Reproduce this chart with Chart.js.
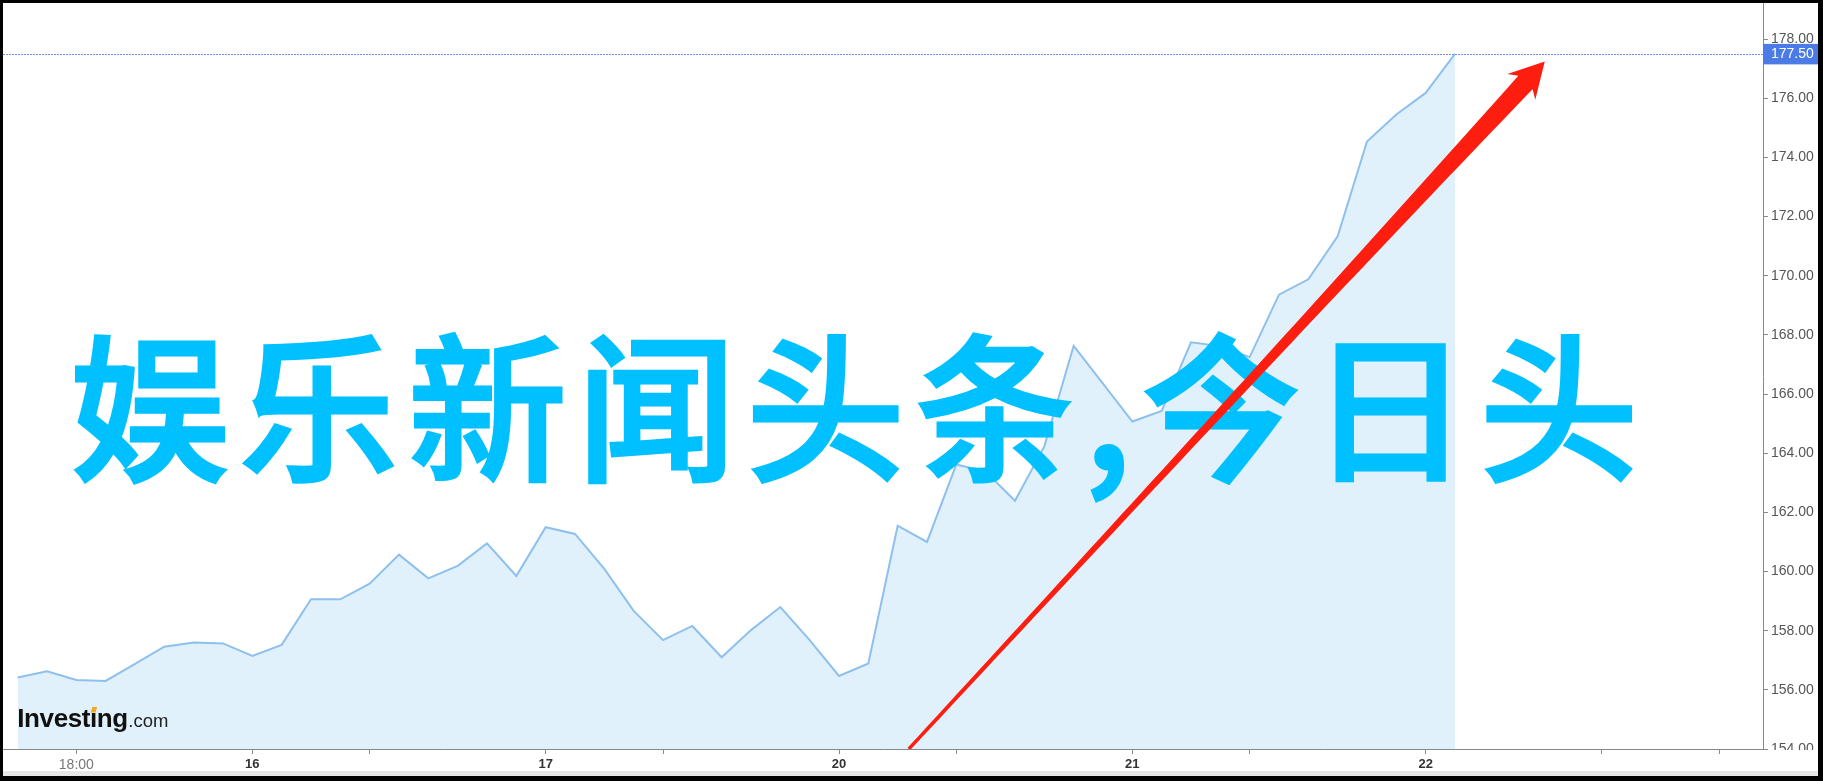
<!DOCTYPE html>
<html><head><meta charset="utf-8">
<script src="https://cdn.jsdelivr.net/npm/chart.js@4.4.1/dist/chart.umd.min.js"></script>
<style>
html,body{margin:0;padding:0;background:#000;width:1823px;height:781px;overflow:hidden}
#panel{position:absolute;left:3px;top:3px;width:1815px;height:768px;background:#fff}
#strip{position:absolute;left:3px;top:771px;width:1815px;height:5px;background:#e6e6e6}
canvas{display:block}
</style></head><body>
<div id="panel"><canvas id="c" width="1815" height="768"></canvas></div>
<div id="strip"></div>
<script>
// ---- data ----
const prices = [
  156.42, 156.63, 156.33, 156.30, 156.88, 157.46, 157.60, 157.57, 157.15, 157.52,
  159.06, 159.06, 159.59, 160.57, 159.77, 160.19, 160.95, 159.85, 161.50, 161.27,
  160.09, 158.67, 157.68, 158.16, 157.10, 158.02, 158.80, 157.68, 156.47, 156.89,
  161.55, 161.00, 163.62, 163.38, 162.39, 164.23, 167.63, 166.35, 165.07, 165.43,
  167.75, 167.62, 167.25, 169.36, 169.88, 171.33, 174.54, 175.45, 176.18, 177.50
];
const yTickValues = [154, 156, 158, 160, 162, 164, 166, 168, 170, 172, 174, 176, 178];
const xTickPositions = [2, 8, 12, 18, 22, 28, 32, 38, 42, 48, 54, 58];
const xTickLabels = ['18:00', '16', '', '17', '', '20', '', '21', '', '22', '', ''];
const lastPrice = 177.50;
const overlayText = '娱乐新闻头条,今日头';
const arrowFrom = [30.38, 154.0];
const arrowTo = [52.06, 177.24];
const logoMain = 'Investing';
const logoSuffix = '.com';

const FONT = '"Liberation Sans", Arial, sans-serif';

function drawArrow(ctx, S, T) {
  const dx = T.x - S.x, dy = T.y - S.y, L = Math.hypot(dx, dy);
  const ux = dx / L, uy = dy / L, nx = -uy, ny = ux;
  const neckBack = 28.5, barbBack = 34.5, barbHalf = 19;
  const Ls = L - neckBack;
  const left = [], right = [];
  const N = 60;
  for (let i = 0; i <= N; i++) {
    const t = i / N, d = t * Ls;
    const w = 0.5 * 3.4 * Math.exp(1.75 * t);
    left.push([S.x + ux * d - nx * w, S.y + uy * d - ny * w]);
    right.push([S.x + ux * d + nx * w, S.y + uy * d + ny * w]);
  }
  ctx.beginPath();
  ctx.moveTo(left[0][0], left[0][1]);
  left.forEach(p => ctx.lineTo(p[0], p[1]));
  ctx.lineTo(T.x - ux * barbBack - nx * barbHalf, T.y - uy * barbBack - ny * barbHalf);
  ctx.lineTo(T.x, T.y);
  ctx.lineTo(T.x - ux * barbBack + nx * barbHalf, T.y - uy * barbBack + ny * barbHalf);
  for (let i = right.length - 1; i >= 0; i--) ctx.lineTo(right[i][0], right[i][1]);
  ctx.closePath();
  ctx.fill();
}

const overlayPlugin = {
  id: 'overlay',
  afterDatasetsDraw(chart) {
    const { ctx, scales: { x, y }, chartArea } = chart;
    ctx.save();
    // dotted last-price line
    const py = Math.round(y.getPixelForValue(lastPrice)) + 0.5;
    ctx.strokeStyle = '#6f91e6';
    ctx.lineWidth = 1;
    ctx.setLineDash([2, 1]);
    ctx.beginPath();
    ctx.moveTo(chartArea.left, py);
    ctx.lineTo(chartArea.right, py);
    ctx.stroke();
    ctx.setLineDash([]);

    // logo
    ctx.textBaseline = 'alphabetic';
    ctx.textAlign = 'left';
    ctx.font = 'bold 26px ' + FONT;
    ctx.letterSpacing = '-0.4px';
    ctx.fillStyle = '#111';
    const lx = 14.3, ly = 724;
    const mainTxt = logoMain.replace('i', 'ı');
    ctx.fillText(mainTxt, lx, ly);
    const wMain = ctx.measureText(mainTxt).width;
    const preI = ctx.measureText(logoMain.slice(0, logoMain.indexOf('i'))).width;
    const iw = ctx.measureText('ı').width;
    ctx.letterSpacing = '0px';
    ctx.fillStyle = '#f5a623';
    ctx.beginPath();
    const cx = lx + preI + iw / 2 - 0.5;
    ctx.moveTo(cx - 2.2, ly - 14.5);
    ctx.lineTo(cx + 2.6, ly - 14.5);
    ctx.lineTo(cx + 4.2, ly - 20);
    ctx.lineTo(cx - 0.6, ly - 20);
    ctx.closePath();
    ctx.fill();
    ctx.font = '18.5px ' + FONT;
    ctx.fillStyle = '#222';
    ctx.fillText(logoSuffix, lx + wMain + 0.5, ly);

    // big overlay text
    ctx.font = '500 159px "Noto Sans CJK SC"';
    ctx.letterSpacing = '10px';
    ctx.fillStyle = '#00c0ff';
    ctx.strokeStyle = '#00c0ff';
    ctx.lineWidth = 3;
    ctx.lineJoin = 'miter';
    ctx.fillText(overlayText, 67, 466.3);
    ctx.strokeText(overlayText, 67, 466.3);
    ctx.letterSpacing = '0px';

    // arrow
    ctx.fillStyle = '#fe1e10';
    ctx.beginPath();
    ctx.rect(chartArea.left, chartArea.top, chartArea.right - chartArea.left, chartArea.bottom - chartArea.top);
    ctx.clip();
    drawArrow(ctx,
      { x: x.getPixelForValue(arrowFrom[0]), y: y.getPixelForValue(arrowFrom[1]) },
      { x: x.getPixelForValue(arrowTo[0]), y: y.getPixelForValue(arrowTo[1]) });
    ctx.restore();
  },
  afterDraw(chart) {
    const { ctx, scales: { y }, chartArea } = chart;
    ctx.save();
    // clipped look of the lowest axis label
    ctx.fillStyle = '#fff';
    ctx.fillRect(chartArea.right + 2, chartArea.bottom + 1, 60, 30);
    // last price box
    const py = y.getPixelForValue(lastPrice);
    ctx.fillStyle = '#4a7be6';
    ctx.fillRect(chartArea.right, py - 10, 56, 20.5);
    ctx.fillStyle = '#fff';
    ctx.font = '14px ' + FONT;
    ctx.textBaseline = 'middle';
    ctx.textAlign = 'left';
    ctx.fillText(lastPrice.toFixed(2), chartArea.right + 8, py + 0.5);
    ctx.restore();
  }
};

new Chart(document.getElementById('c'), {
  type: 'line',
  data: {
    datasets: [{
      data: prices.map((v, i) => ({ x: i, y: v })),
      borderColor: '#8ec0ee',
      borderWidth: 2,
      backgroundColor: '#e1f1fb',
      fill: 'start',
      pointRadius: 0,
      tension: 0
    }]
  },
  options: {
    responsive: false,
    animation: false,
    layout: { padding: 0 },
    plugins: { legend: { display: false }, tooltip: { enabled: false } },
    scales: {
      x: {
        type: 'linear',
        min: -0.5,
        max: 59.5,
        grid: { drawOnChartArea: false, drawTicks: true, tickLength: 5, color: '#888' },
        border: { display: true, color: '#888', width: 1 },
        afterBuildTicks: s => { s.ticks = xTickPositions.map(v => ({ value: v })); },
        afterFit: s => { s.height = 22; s.paddingLeft = 0; s.paddingRight = 0; },
        ticks: {
          autoSkip: false,
          maxRotation: 0,
          padding: 3,
          callback: (v, i) => xTickLabels[i],
          color: c => (c.index === 0 ? '#777' : '#333'),
          font: c => (c.index === 0 ? { family: FONT, size: 14 } : { family: FONT, size: 13, weight: 'bold' })
        }
      },
      y: {
        type: 'linear',
        position: 'right',
        min: 154,
        max: 179.22,
        grid: { drawOnChartArea: false, drawTicks: true, tickLength: 5, color: '#888' },
        border: { display: true, color: '#888', width: 1 },
        afterBuildTicks: s => { s.ticks = yTickValues.map(v => ({ value: v })); },
        afterFit: s => { s.width = 55; s.paddingTop = 0; s.paddingBottom = 0; },
        ticks: {
          padding: 3,
          color: '#555',
          font: { family: FONT, size: 14 },
          callback: v => Number(v).toFixed(2)
        }
      }
    }
  },
  plugins: [overlayPlugin]
});
</script>
</body></html>
